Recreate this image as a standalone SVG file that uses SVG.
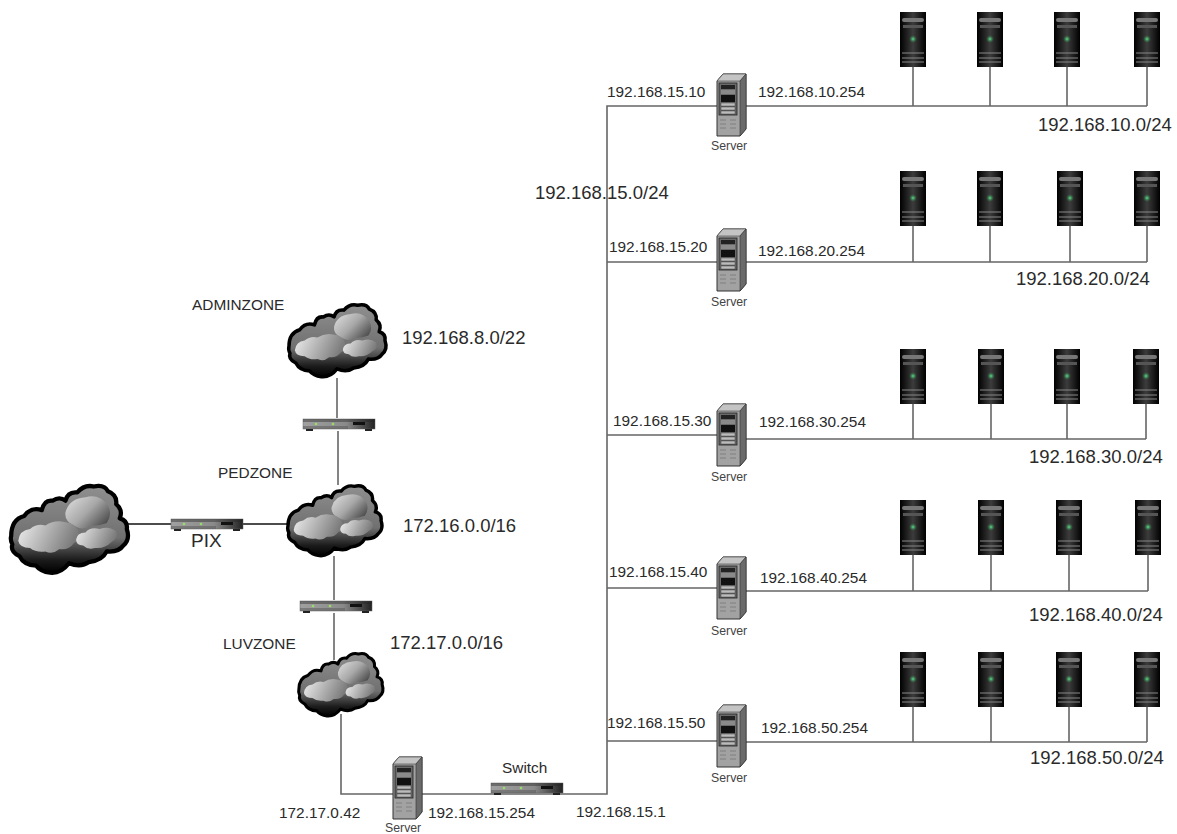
<svg xmlns="http://www.w3.org/2000/svg" width="1177" height="834" viewBox="0 0 1177 834">
<style>
text{font-family:"Liberation Sans",Arial,sans-serif;fill:#2a2a2a}
.ip{font-size:15.4px}.net{font-size:18.5px}.sv{font-size:12.3px;fill:#444}.zn{font-size:15.4px}
.c{stroke:#666;stroke-width:1.6;fill:none}
.k{stroke:#111;stroke-width:1.4;fill:none}
</style>
<defs>
<linearGradient id="cb" x1="0" y1="0" x2="0" y2="1"><stop offset="0" stop-color="#8f8f8f"/><stop offset=".6" stop-color="#707070"/><stop offset=".85" stop-color="#1c1c1c"/><stop offset="1" stop-color="#000"/></linearGradient>
<linearGradient id="cl" x1="0" y1="0" x2="1" y2=".25"><stop offset="0" stop-color="#f0f0f0"/><stop offset="1" stop-color="#7c7c7c"/></linearGradient>
<linearGradient id="cu" x1="0" y1="0" x2="1" y2=".7"><stop offset="0" stop-color="#e2e2e2"/><stop offset=".55" stop-color="#a8a8a8"/><stop offset="1" stop-color="#505050"/></linearGradient>
<linearGradient id="sw" x1="0" y1="0" x2="1" y2="0"><stop offset="0" stop-color="#a0a0a0"/><stop offset=".6" stop-color="#8a8a8a"/><stop offset="1" stop-color="#222"/></linearGradient>
<linearGradient id="tw" x1="0" y1="0" x2="1" y2="0"><stop offset="0" stop-color="#000"/><stop offset=".5" stop-color="#3c3c3c"/><stop offset="1" stop-color="#000"/></linearGradient>
<radialGradient id="gl"><stop offset="0" stop-color="#5fe08a"/><stop offset="1" stop-color="#2a7a45" stop-opacity="0"/></radialGradient>
<symbol id="cloud" viewBox="0 0 100 76" overflow="visible">
<path d="M1 44Q1 30 12 27Q18 19 27 22Q29 13 36 14Q42 10 47 14Q49 6 57 7Q63 0 71 2Q80 0 83 6Q91 9 90 17Q96 22 93 29Q100 31 99 38Q102 47 96 52Q92 58 82 57Q78 65 67 66Q60 71 50 67Q43 76 34 75Q26 74 22 69Q12 69 8 61Q0 57 2 51Q0 47 1 44Z" fill="url(#cb)" stroke="#000" stroke-width="3.6" stroke-linejoin="round"/>
<path d="M47 24Q50 12 64 11Q76 8 83 18Q87 26 82 33Q74 36 68 35Q62 40 54 35Q46 31 47 24Z" fill="url(#cu)"/>
<path d="M7 48Q8 39 17 38Q23 33 30 35Q38 30 46 32Q56 33 58 40Q60 48 54 50Q50 56 42 55Q36 60 30 57Q22 58 17 54Q8 54 7 48Z" fill="url(#cl)"/>
<path d="M56 47Q57 41 64 41Q68 36 76 38Q84 35 90 40Q92 46 86 49Q80 55 72 54Q66 56 62 52Q56 52 56 47Z" fill="url(#cl)"/>
</symbol>
<symbol id="switch" viewBox="0 0 72 13" overflow="visible">
<rect x="0" y="1" width="72" height="10" fill="url(#sw)" stroke="#666" stroke-width=".5"/>
<rect x="0" y="1" width="72" height="3" fill="#222" opacity=".4"/>
<path d="M0 8H45V11H0Z" fill="#555" opacity=".5"/>
<rect x="3" y="11" width="7" height="2" fill="#222"/><rect x="62" y="11" width="7" height="2" fill="#222"/>
<rect x="50" y="4" width="12" height="3" fill="#111"/>
<circle cx="13" cy="6" r="1.3" fill="#9d6"/><circle cx="30" cy="6" r="1.3" fill="#9d6"/>
</symbol>
<symbol id="server" viewBox="0 0 30 64" overflow="visible">
<path d="M0 7L6 0H29V55L23 62H0Z" fill="#a2a2a2" stroke="#333" stroke-width="1"/>
<path d="M0 7L6 0H29L23 7Z" fill="#c4c4c4" stroke="#444" stroke-width=".6"/>
<path d="M23 7V62L29 55V0Z" fill="#6a6a6a" stroke="#333" stroke-width=".6"/>
<rect x="2" y="9" width="18" height="32" fill="#6a6a6a" stroke="#222" stroke-width=".8"/>
<rect x="4" y="11" width="14" height="4" fill="#222"/><rect x="4" y="16" width="14" height="4" fill="#8a8a8a"/>
<rect x="4" y="21" width="14" height="7" fill="#111"/>
<rect x="4" y="29" width="14" height="3" fill="#bbb" stroke="#333" stroke-width=".4"/><rect x="4" y="33" width="14" height="3" fill="#bbb" stroke="#333" stroke-width=".4"/><rect x="4" y="37" width="14" height="3" fill="#bbb" stroke="#333" stroke-width=".4"/>
<path d="M3 46H9M13 46H19M3 50H9M13 50H19M3 54H9M13 54H19" stroke="#777" stroke-width=".8"/>
</symbol>
<symbol id="tower" viewBox="0 0 26 55" overflow="visible">
<rect width="26" height="55" fill="url(#tw)"/>
<rect x="2" y="6" width="22" height="4" rx="2" fill="#777"/>
<rect x="3" y="13" width="20" height="3" fill="#555"/>
<circle cx="13" cy="27" r="4" fill="url(#gl)"/>
<path d="M2 41H24M2 46H24M2 50H24" stroke="#888" stroke-width="1"/>
</symbol>
</defs>
<g id="connectors">
<path class="k" d="M128 524H290"/>
<path class="c" d="M337 378V418M338 431V485M334 556V600M334 613V660M341 714V794H490M415 794H607V106H720M607 262H720M607 435H720M607 588H720M607 741H720"/>
<path class="c" d="M745 106H1147M913 67V106M990 67V106M1067 67V106M1147 67V106"/>
<path class="c" d="M745 262H1147M913 226V262M990 226V262M1070 226V262M1147 226V262"/>
<path class="c" d="M745 439H1146M913 404V439M991 404V439M1067 404V439M1146 404V439"/>
<path class="c" d="M745 591H1148M913 555V591M991 555V591M1069 555V591M1148 555V591"/>
<path class="c" d="M745 742H1147M913 707V742M991 707V742M1069 707V742M1147 707V742"/>
</g>
<g id="cloud-internet"><use href="#cloud" x="10" y="484" width="118" height="90"/></g>
<g id="cloud-admin"><use href="#cloud" x="288" y="303" width="98" height="75"/><text class="zn" x="192" y="310">ADMINZONE</text><text class="net" x="402" y="344">192.168.8.0/22</text></g>
<g id="cloud-ped"><use href="#cloud" x="287" y="484" width="95" height="73"/><text class="zn" x="218" y="478">PEDZONE</text><text class="net" x="403" y="532">172.16.0.0/16</text></g>
<g id="cloud-luv"><use href="#cloud" x="298" y="652" width="85" height="65"/><text class="zn" x="223" y="649">LUVZONE</text><text class="net" x="390" y="649">172.17.0.0/16</text></g>
<g id="switch-admin"><use href="#switch" x="303" y="418" width="72" height="13"/></g>
<g id="switch-pix"><use href="#switch" x="171" y="518" width="72" height="13"/><text x="191" y="547" style="font-size:19px">PIX</text></g>
<g id="switch-luv"><use href="#switch" x="300" y="600" width="72" height="13"/></g>
<g id="switch-main"><use href="#switch" x="491" y="782" width="72" height="13"/><text class="ip" x="502" y="773">Switch</text></g>
<g id="server-gw"><use href="#server" x="393" y="757" width="30" height="64"/><text class="sv" x="385" y="832">Server</text><text class="ip" x="279" y="818">172.17.0.42</text><text class="ip" x="428" y="818">192.168.15.254</text><text class="ip" x="576" y="817">192.168.15.1</text></g>
<text class="net" x="535" y="199">192.168.15.0/24</text>
<g id="server-10"><use href="#server" x="717" y="74" width="30" height="64"/><text class="sv" x="711" y="150">Server</text><text class="ip" x="607" y="97">192.168.15.10</text><text class="ip" x="758" y="97">192.168.10.254</text><text class="net" x="1038" y="131">192.168.10.0/24</text></g>
<g id="server-20"><use href="#server" x="717" y="229" width="30" height="64"/><text class="sv" x="711" y="306">Server</text><text class="ip" x="609" y="252">192.168.15.20</text><text class="ip" x="758" y="256">192.168.20.254</text><text class="net" x="1016" y="285">192.168.20.0/24</text></g>
<g id="server-30"><use href="#server" x="717" y="404" width="30" height="64"/><text class="sv" x="711" y="481">Server</text><text class="ip" x="613" y="426">192.168.15.30</text><text class="ip" x="759" y="427">192.168.30.254</text><text class="net" x="1029" y="463">192.168.30.0/24</text></g>
<g id="server-40"><use href="#server" x="717" y="557" width="30" height="64"/><text class="sv" x="711" y="635">Server</text><text class="ip" x="609" y="577">192.168.15.40</text><text class="ip" x="760" y="583">192.168.40.254</text><text class="net" x="1029" y="621">192.168.40.0/24</text></g>
<g id="server-50"><use href="#server" x="717" y="705" width="30" height="64"/><text class="sv" x="711" y="782">Server</text><text class="ip" x="607" y="728">192.168.15.50</text><text class="ip" x="761" y="733">192.168.50.254</text><text class="net" x="1030" y="764">192.168.50.0/24</text></g>
<g id="hosts-10"><use href="#tower" x="900" y="12" width="26" height="55"/><use href="#tower" x="977" y="12" width="26" height="55"/><use href="#tower" x="1054" y="12" width="26" height="55"/><use href="#tower" x="1134" y="12" width="26" height="55"/></g>
<g id="hosts-20"><use href="#tower" x="900" y="171" width="26" height="55"/><use href="#tower" x="977" y="171" width="26" height="55"/><use href="#tower" x="1057" y="171" width="26" height="55"/><use href="#tower" x="1134" y="171" width="26" height="55"/></g>
<g id="hosts-30"><use href="#tower" x="900" y="349" width="26" height="55"/><use href="#tower" x="978" y="349" width="26" height="55"/><use href="#tower" x="1054" y="349" width="26" height="55"/><use href="#tower" x="1133" y="349" width="26" height="55"/></g>
<g id="hosts-40"><use href="#tower" x="900" y="500" width="26" height="55"/><use href="#tower" x="978" y="500" width="26" height="55"/><use href="#tower" x="1056" y="500" width="26" height="55"/><use href="#tower" x="1135" y="500" width="26" height="55"/></g>
<g id="hosts-50"><use href="#tower" x="900" y="652" width="26" height="55"/><use href="#tower" x="978" y="652" width="26" height="55"/><use href="#tower" x="1056" y="652" width="26" height="55"/><use href="#tower" x="1134" y="652" width="26" height="55"/></g>
</svg>
